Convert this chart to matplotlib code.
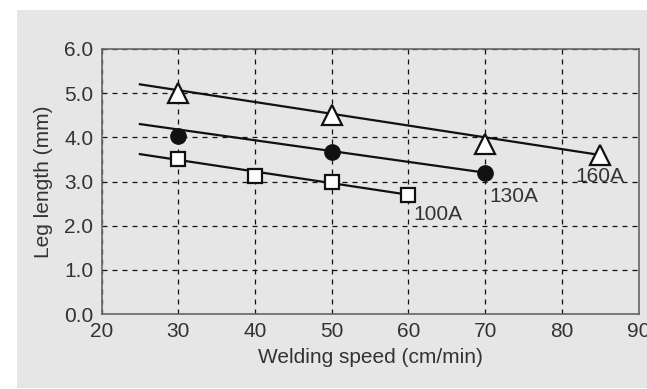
import matplotlib
matplotlib.use("Agg")
import matplotlib.pyplot as plt
from matplotlib.patches import Rectangle

plt.rcParams['font.family'] = ['Liberation Sans', 'DejaVu Sans']

# data
x160 = [30, 50, 70, 85]
y160 = [5.0, 4.5, 3.85, 3.6]
x130 = [30, 50, 70]
y130 = [4.02, 3.67, 3.2]
x100 = [30, 40, 50, 60]
y100 = [3.5, 3.12, 3.0, 2.7]
fit160_x = [25, 85]
fit160_y = [5.2, 3.6]
fit130_x = [25, 70]
fit130_y = [4.3, 3.2]
fit100_x = [25, 60]
fit100_y = [3.62, 2.7]
labels = ["160A", "130A", "100A"]
label_pos = [(85, 3.12), (73.8, 2.65), (63.9, 2.26)]
xticks = [20, 30, 40, 50, 60, 70, 80, 90]
yticks = [0.0, 1.0, 2.0, 3.0, 4.0, 5.0, 6.0]

bg = "#e6e6e6"
tc = "#333333"
fs = 15
fig = plt.figure(figsize=(6.47, 3.89), dpi=100)
fig.patch.set_facecolor("white")
fig.patches.append(Rectangle((16.5/647, 1/389), 1, 378/389, transform=fig.transFigure,
                             facecolor=bg, edgecolor="none", zorder=-10))
ax = fig.add_axes([101.5/647, 75/389, (638.6-101.5)/647, (314-49)/389])
ax.set_zorder(1)
ax.set_facecolor(bg)
ax.set_xlim(20, 90)
ax.set_ylim(0, 6)
ax.set_xticks(xticks)
ax.set_yticks(yticks)
ax.set_yticklabels([f"{v:.1f}" for v in yticks])
ax.grid(True, color="#111111", linestyle=(0, (4, 4)), linewidth=0.9)
ax.tick_params(axis="x", length=0, labelsize=fs, colors=tc, pad=6)
ax.tick_params(axis="y", length=0, labelsize=fs, colors=tc, pad=6)
for s in ax.spines.values():
    s.set_color("#666666")
    s.set_linewidth(1.2)

ax.plot(fit160_x, fit160_y, color="#111111", lw=1.6, zorder=3)
ax.plot(fit130_x, fit130_y, color="#111111", lw=1.6, zorder=3)
ax.plot(fit100_x, fit100_y, color="#111111", lw=1.6, zorder=3)
ax.plot(x160, y160, linestyle="none", marker="^", ms=15, mfc="white", mec="#111111", mew=1.6, zorder=4)
ax.plot(x130, y130, linestyle="none", marker="o", ms=11, mfc="#111111", mec="#111111", zorder=4)
ax.plot(x100, y100, linestyle="none", marker="s", ms=10, mfc="white", mec="#111111", mew=1.6, zorder=4)
for lab, (lx, ly) in zip(labels, label_pos):
    ax.text(lx, ly, lab, ha="center", va="center", fontsize=fs, color=tc, zorder=5)

ax.set_xlabel("Welding speed (cm/min)", fontsize=fs, color=tc, labelpad=5)
ax.set_ylabel("Leg length (mm)", fontsize=fs, color=tc, labelpad=8)
fig.savefig("out.png", dpi=100, facecolor=fig.get_facecolor())
